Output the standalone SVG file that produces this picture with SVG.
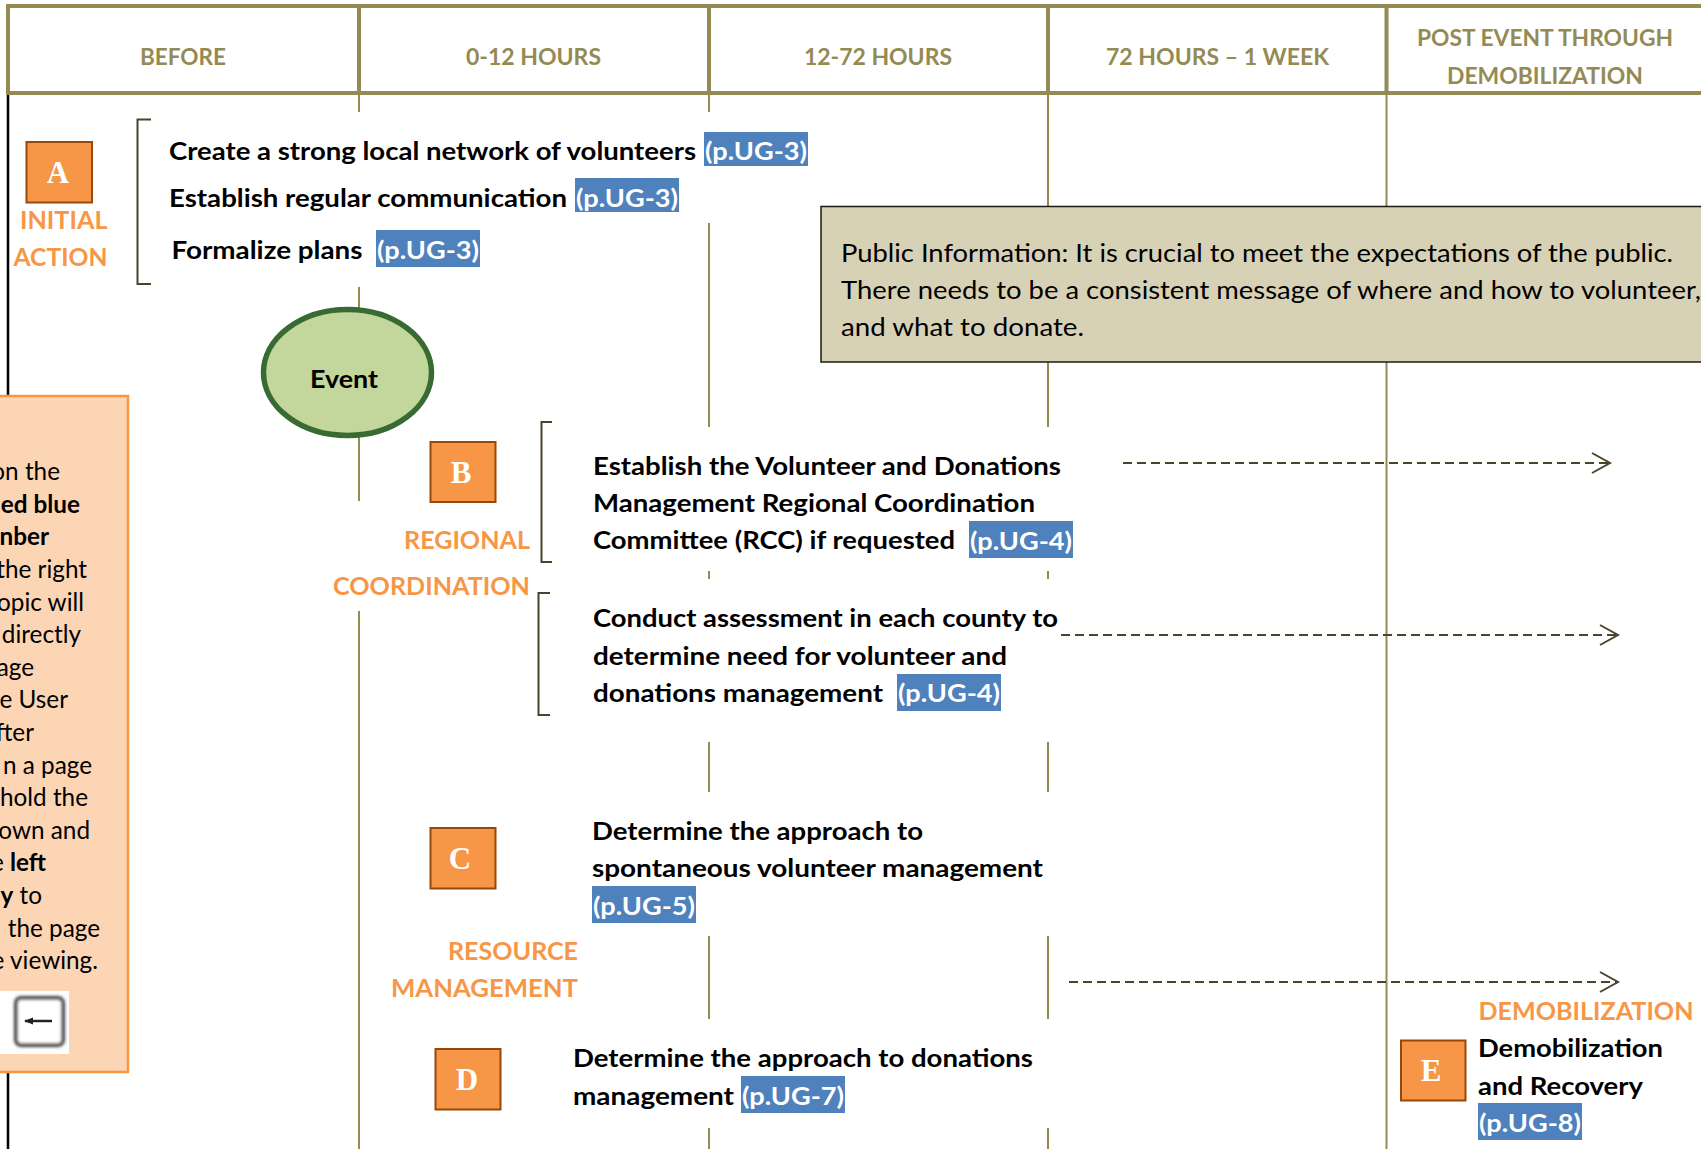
<svg xmlns="http://www.w3.org/2000/svg" width="1701" height="1149" viewBox="0 0 1701 1149">
<style>
text{font-family:Lato,"Open Sans","Liberation Sans",sans-serif;white-space:pre}
.b{font-weight:700;font-size:25px;fill:#000}
.r{font-size:25px;fill:#000}
.h{font-weight:700;font-size:22.5px;fill:#948A54}
.o{font-weight:700;font-size:25px;fill:#F79646}
.p{font-size:24.3px;fill:#000}
.pb{font-size:24.3px;fill:#000;font-weight:700}
.l{font-weight:700;font-size:25.500px;fill:#fff}
.bl{fill:#4F81BD}
.box{fill:#F79646;stroke:#984807;stroke-width:2}
.let{font-family:"Liberation Serif",serif;font-weight:700;font-size:31px;fill:#fff;text-anchor:middle}
.vl{stroke:#948A54;stroke-width:2;fill:none}
.hd{stroke:#948A54;stroke-width:4;fill:none}
.br{stroke:#4A452A;stroke-width:2;fill:none}
.ar{stroke:#4A452A;stroke-width:2;fill:none;stroke-dasharray:9 5}
</style>
<defs>
<marker id="head" markerUnits="userSpaceOnUse" markerWidth="24" markerHeight="26" refX="20" refY="12" orient="auto"><path d="M2 2L20 12L2 22" fill="none" stroke="#4A452A" stroke-width="2"/></marker>
<filter id="soft" x="-20%" y="-20%" width="140%" height="140%"><feGaussianBlur stdDeviation="1.4"/></filter>
</defs>
<rect width="1701" height="1149" fill="#fff"/>

<g id="grid">
<path class="vl" d="M359 93V112M359 287V320M359 430V501M359 611V1149"/>
<path class="vl" d="M709 93V112M709 223V427M709 571V579M709 742V792M709 936V1019M709 1128V1149"/>
<path class="vl" d="M1048 93V207M1048 362V427M1048 571V579M1048 742V792M1048 936V1019M1048 1128V1149"/>
<path class="vl" d="M1386.500 93V207M1386.500 362V1149"/>
<path d="M8 93V396M8 1072V1149" stroke="#000" stroke-width="2.500" fill="none"/>
</g>

<g id="header">
<path class="hd" d="M1701 6H8V93H1701M359 6V93M709 6V93M1048 6V93M1386.500 6V93"/>
<text class="h" x="140" y="65" textLength="86" lengthAdjust="spacingAndGlyphs">BEFORE</text>
<text class="h" x="466" y="65" textLength="135" lengthAdjust="spacingAndGlyphs">0-12 HOURS</text>
<text class="h" x="804" y="65" textLength="148" lengthAdjust="spacingAndGlyphs">12-72 HOURS</text>
<text class="h" x="1106" y="65" textLength="223" lengthAdjust="spacingAndGlyphs">72 HOURS – 1 WEEK</text>
<text class="h" x="1417" y="46" textLength="256" lengthAdjust="spacingAndGlyphs">POST EVENT THROUGH</text>
<text class="h" x="1447" y="84" textLength="196" lengthAdjust="spacingAndGlyphs">DEMOBILIZATION</text>
</g>

<g id="connectors">
<path class="ar" d="M1123 463H1610" marker-end="url(#head)"/>
<path class="ar" d="M1061 635H1618" marker-end="url(#head)"/>
<path class="ar" d="M1069 982H1618" marker-end="url(#head)"/>
</g>

<g id="node-a">
<rect class="box" x="26.500" y="142" width="65.500" height="60.500"/>
<text class="let" x="58" y="183">A</text>
<text class="o" x="20" y="229" textLength="87.500" lengthAdjust="spacingAndGlyphs">INITIAL</text>
<text class="o" x="13.500" y="266" textLength="94" lengthAdjust="spacingAndGlyphs">ACTION</text>
<path class="br" d="M151 119.500H137.500V284H151"/>
<text class="b" x="169" y="160" textLength="527" lengthAdjust="spacingAndGlyphs">Create a strong local network of volunteers</text>
<rect class="bl" x="704" y="132" width="104" height="34"/>
<text class="l" x="705" y="160" textLength="102" lengthAdjust="spacingAndGlyphs">(p.UG-3)</text>
<text class="b" x="169" y="207" textLength="398" lengthAdjust="spacingAndGlyphs">Establish regular communication</text>
<rect class="bl" x="575" y="178" width="104" height="34"/>
<text class="l" x="576" y="207" textLength="102" lengthAdjust="spacingAndGlyphs">(p.UG-3)</text>
<text class="b" x="171.500" y="259" textLength="191" lengthAdjust="spacingAndGlyphs">Formalize plans</text>
<rect class="bl" x="376" y="230" width="104" height="37"/>
<text class="l" x="377" y="259" textLength="102" lengthAdjust="spacingAndGlyphs">(p.UG-3)</text>
</g>

<g id="node-public-information">
<rect x="821" y="206.500" width="890" height="155.500" fill="#D7D1B6" stroke="#1D1B10" stroke-width="1.500"/>
<text class="r" x="841" y="262" textLength="832" lengthAdjust="spacingAndGlyphs">Public Information: It is crucial to meet the expectations of the public.</text>
<text class="r" x="841" y="299" textLength="860" lengthAdjust="spacingAndGlyphs">There needs to be a consistent message of where and how to volunteer,</text>
<text class="r" x="841" y="336" textLength="243" lengthAdjust="spacingAndGlyphs">and what to donate.</text>
</g>

<g id="node-event">
<ellipse cx="347.500" cy="372.500" rx="84" ry="63" fill="#C3D69B" stroke="#376B31" stroke-width="5.500"/>
<text class="b" x="310" y="388" textLength="68" lengthAdjust="spacingAndGlyphs">Event</text>
</g>

<g id="node-help">
<rect x="-4" y="396" width="132" height="676" fill="#FCD5B5" stroke="#F79646" stroke-width="2.500"/>
<g text-anchor="end">
<text class="p" x="60" y="480">on the</text>
<text class="pb" x="80" y="513">ed blue</text>
<text class="pb" x="49" y="545">nber</text>
<text class="p" x="87" y="578">the right</text>
<text class="p" x="84" y="611">opic will</text>
<text class="p" x="81" y="643">directly</text>
<text class="p" x="34" y="676">age</text>
<text class="p" x="68" y="708">e User</text>
<text class="p" x="34" y="741">fter</text>
<text class="p" x="92" y="774">n a page</text>
<text class="p" x="88" y="806">hold the</text>
<text class="p" x="90" y="839">own and</text>
<text class="p" x="46" y="871">e <tspan class="pb">left</tspan></text>
<text class="p" x="42" y="904"><tspan class="pb">y</tspan> to</text>
<text class="p" x="100" y="937">the page</text>
<text class="p" x="98" y="969">e viewing.</text>
</g>
<rect x="0" y="991" width="69" height="63" fill="#fff"/>
<rect x="16" y="998" width="47" height="47" rx="5" fill="#fff" stroke="#444" stroke-width="4" filter="url(#soft)"/>
<path d="M25 1021H52" stroke="#222" stroke-width="2.500" fill="none"/>
<path d="M24 1021L33 1017.500V1024.500Z" fill="#222"/>
</g>

<g id="node-b">
<rect class="box" x="430.500" y="442" width="65" height="60"/>
<text class="let" x="461" y="483">B</text>
<text class="o" x="404" y="549" textLength="126" lengthAdjust="spacingAndGlyphs">REGIONAL</text>
<text class="o" x="333" y="595" textLength="197" lengthAdjust="spacingAndGlyphs">COORDINATION</text>
<path class="br" d="M552 422H541.500V562H552"/>
<path class="br" d="M550 593H538.500V715H550"/>
<text class="b" x="593" y="475" textLength="468" lengthAdjust="spacingAndGlyphs">Establish the Volunteer and Donations</text>
<text class="b" x="593" y="512" textLength="442" lengthAdjust="spacingAndGlyphs">Management Regional Coordination</text>
<text class="b" x="593" y="549" textLength="362" lengthAdjust="spacingAndGlyphs">Committee (RCC) if requested</text>
<rect class="bl" x="969" y="521" width="104" height="37"/>
<text class="l" x="970" y="550" textLength="102" lengthAdjust="spacingAndGlyphs">(p.UG-4)</text>
<text class="b" x="593" y="627" textLength="465" lengthAdjust="spacingAndGlyphs">Conduct assessment in each county to</text>
<text class="b" x="593" y="665" textLength="414" lengthAdjust="spacingAndGlyphs">determine need for volunteer and</text>
<text class="b" x="593" y="702" textLength="290" lengthAdjust="spacingAndGlyphs">donations management</text>
<rect class="bl" x="897" y="674" width="104" height="37"/>
<text class="l" x="898" y="702" textLength="102" lengthAdjust="spacingAndGlyphs">(p.UG-4)</text>
</g>

<g id="node-c">
<rect class="box" x="430.500" y="828" width="65" height="60.500"/>
<text class="let" x="460" y="869">C</text>
<text class="b" x="592" y="840" textLength="331" lengthAdjust="spacingAndGlyphs">Determine the approach to</text>
<text class="b" x="592" y="877" textLength="451" lengthAdjust="spacingAndGlyphs">spontaneous volunteer management</text>
<rect class="bl" x="592" y="886" width="104" height="37"/>
<text class="l" x="593" y="915" textLength="102" lengthAdjust="spacingAndGlyphs">(p.UG-5)</text>
</g>

<g id="node-resource-management">
<text class="o" x="448" y="960" textLength="130" lengthAdjust="spacingAndGlyphs">RESOURCE</text>
<text class="o" x="391" y="997" textLength="187" lengthAdjust="spacingAndGlyphs">MANAGEMENT</text>
</g>

<g id="node-d">
<rect class="box" x="435.500" y="1049" width="65" height="60.500"/>
<text class="let" x="467" y="1090">D</text>
<text class="b" x="573" y="1067" textLength="460" lengthAdjust="spacingAndGlyphs">Determine the approach to donations</text>
<text class="b" x="573" y="1105" textLength="161" lengthAdjust="spacingAndGlyphs">management</text>
<rect class="bl" x="741" y="1076" width="104" height="37"/>
<text class="l" x="742" y="1105" textLength="102" lengthAdjust="spacingAndGlyphs">(p.UG-7)</text>
</g>

<g id="node-e">
<rect class="box" x="1401" y="1040.500" width="64.500" height="60"/>
<text class="let" x="1431" y="1081">E</text>
<text class="o" x="1478.500" y="1020" textLength="215" lengthAdjust="spacingAndGlyphs">DEMOBILIZATION</text>
<text class="b" x="1478" y="1057" textLength="185" lengthAdjust="spacingAndGlyphs">Demobilization</text>
<text class="b" x="1478" y="1095" textLength="165" lengthAdjust="spacingAndGlyphs">and Recovery</text>
<rect class="bl" x="1478" y="1103" width="104" height="37"/>
<text class="l" x="1479" y="1132" textLength="102" lengthAdjust="spacingAndGlyphs">(p.UG-8)</text>
</g>
</svg>
